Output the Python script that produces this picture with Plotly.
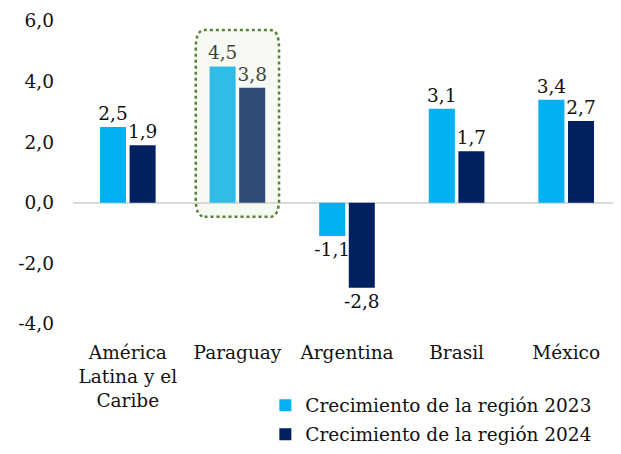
import plotly.graph_objects as go

categories = ["América<br>Latina y el<br>Caribe", "Paraguay", "Argentina", "Brasil", "México"]
growth_2023 = [2.5, 4.5, -1.1, 3.1, 3.4]
growth_2024 = [1.9, 3.8, -2.8, 1.7, 2.7]
series_names = ["Crecimiento de la región 2023", "Crecimiento de la región 2024"]
tick_vals = [-4, -2, 0, 2, 4, 6]
tick_text = ["-4,0", "-2,0", "0,0", "2,0", "4,0", "6,0"]

def fmt(v):
    return f"{v:.1f}".replace(".", ",")

FONT = "DejaVu Serif"
FS = 18.5

fig = go.Figure()
fig.add_trace(go.Bar(
    x=categories, y=growth_2023, name=series_names[0],
    marker=dict(color="#00B0F0", line=dict(width=0)),
    text=[fmt(v) for v in growth_2023], textposition="outside",
    constraintext="none",
    textfont=dict(family=FONT, size=FS, color="#111"), cliponaxis=False,
    legendgroup="a",
))
fig.add_trace(go.Bar(
    x=categories, y=growth_2024, name=series_names[1],
    marker=dict(color="#002060", line=dict(width=0)),
    text=[fmt(v) for v in growth_2024], textposition="outside",
    constraintext="none",
    textfont=dict(family=FONT, size=FS, color="#111"), cliponaxis=False,
    legendgroup="b",
))

# highlight box around Paraguay (rounded, dotted green)
x0, x1, y0, y1, r = 0.62, 1.38, -0.46, 5.7, 0.08
ry = 0.6
path = (f"M {x0+r},{y0} L {x1-r},{y0} Q {x1},{y0} {x1},{y0+ry} "
        f"L {x1},{y1-ry} Q {x1},{y1} {x1-r},{y1} "
        f"L {x0+r},{y1} Q {x0},{y1} {x0},{y1-ry} "
        f"L {x0},{y0+ry} Q {x0},{y0} {x0+r},{y0} Z")
fig.add_shape(type="path", path=path, xref="x", yref="y",
              line=dict(color="#548235", width=2.5, dash="dot"),
              fillcolor="rgba(215,230,200,0.22)", layer="above")

fig.update_layout(
    width=613, height=446,
    margin=dict(l=65, r=0, t=13, b=130),
    paper_bgcolor="white", plot_bgcolor="white",
    font=dict(family=FONT, size=FS, color="#111"),
    bargap=0.46, bargroupgap=0.12,
    showlegend=True,
    legend=dict(x=0.351, y=-0.428, xanchor="left", yanchor="bottom",
                font=dict(family=FONT, size=FS, color="#111"),
                tracegroupgap=2, bgcolor="rgba(0,0,0,0)"),
)
fig.update_xaxes(showgrid=False, showline=False, ticks="", tickangle=0,
                 automargin=False, ticklabelstandoff=15,
                 tickfont=dict(family=FONT, size=FS, color="#111"))
fig.update_yaxes(range=[-4, 6], tickvals=tick_vals, ticktext=tick_text,
                 showgrid=False, showline=False, zeroline=True,
                 zerolinecolor="#d9d9d9", zerolinewidth=1.5,
                 automargin=False, ticklabelstandoff=18,
                 tickfont=dict(family=FONT, size=FS, color="#111"))

fig.write_html("out.html")
